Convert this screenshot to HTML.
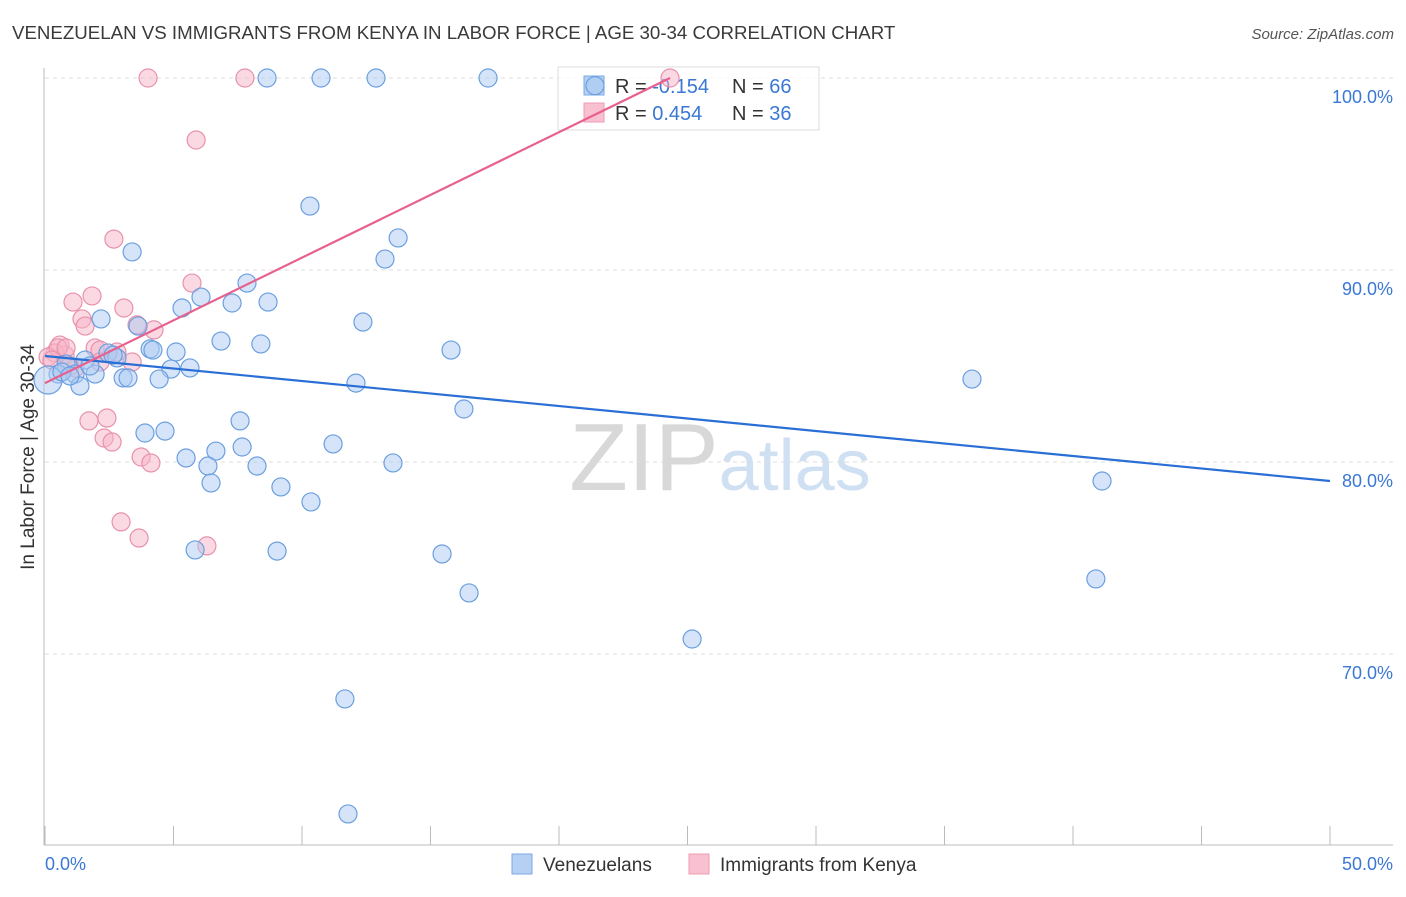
<!DOCTYPE html>
<html><head><meta charset="utf-8"><style>
body{margin:0;background:#fff;font-family:"Liberation Sans",sans-serif;}
svg text{font-family:"Liberation Sans",sans-serif;}
</style></head><body>
<svg id="chart" width="1406" height="892" xmlns="http://www.w3.org/2000/svg">
<text x="12" y="39" font-size="18.7" fill="#3a3a3a">VENEZUELAN VS IMMIGRANTS FROM KENYA IN LABOR FORCE | AGE 30-34 CORRELATION CHART</text>
<text x="1394" y="39" font-size="15" fill="#555" text-anchor="end" font-style="italic">Source: ZipAtlas.com</text>
<text x="720" y="490" font-size="96" fill="#ddd" text-anchor="middle" font-family="Liberation Serif"><tspan fill="#d8d8d8">ZIP</tspan><tspan fill="#cfe0f3" font-family="Liberation Sans" font-size="72">atlas</tspan></text>
<text transform="translate(34,457) rotate(-90)" font-size="19" fill="#333" text-anchor="middle">In Labor Force | Age 30-34</text>
<g id="grid"></g>
<g>
<rect x="558" y="67" width="261" height="63" fill="#fff" fill-opacity="0.75" stroke="#ddd"/>
<rect x="584" y="76" width="20" height="19" fill="#b5d0f3" stroke="#7aa8e6"/>
<rect x="584" y="103" width="20" height="19" fill="#f8c0d0" stroke="#ee9cb4"/>
<text x="615" y="93" font-size="20" fill="#333">R = <tspan fill="#3a78d4"> -0.154</tspan></text>
<text x="732" y="93" font-size="20" fill="#333">N = <tspan fill="#3a78d4">66</tspan></text>
<text x="615" y="120" font-size="20" fill="#333">R = <tspan fill="#3a78d4">  0.454</tspan></text>
<text x="732" y="120" font-size="20" fill="#333">N = <tspan fill="#3a78d4">36</tspan></text>
</g>
<g id="pts"></g><g id="lines"></g>
<g>
<rect x="512" y="854" width="20" height="20" fill="#b5d0f3" stroke="#7aa8e6"/>
<text x="543" y="871" font-size="19" fill="#333">Venezuelans</text>
<rect x="689" y="854" width="20" height="20" fill="#f8c0d0" stroke="#ee9cb4"/>
<text x="720" y="871" font-size="19" fill="#333">Immigrants from Kenya</text>
</g>
</svg>
<script>
const blueX=[8.64,10.74,12.88,17.24,21.4,10.31,13.74,3.39,13.23,7.86,6.07,5.33,7.28,8.68,2.18,12.37,3.62,6.85,8.40,4.09,4.20,5.10,15.80,2.45,2.80,1.56,0.82,4.90,5.64,0.51,1.17,1.95,3.04,3.23,4.44,12.10,36.07,1.36,0.12,16.30,7.59,3.89,4.67,11.21,7.67,5.49,6.65,6.34,8.25,13.54,6.46,9.18,10.35,41.13,5.84,9.03,15.45,16.50,40.89,25.18,11.67,11.79,0.66,0.97,1.75,2.65];
const blueY=[100,100,100,100,99.6,93.33,91.67,90.94,90.57,89.32,88.59,88.02,88.28,88.33,87.45,87.29,87.08,86.30,86.15,85.89,85.83,85.73,85.83,85.68,85.42,85.31,85.10,84.84,84.90,84.58,84.58,84.58,84.38,84.38,84.32,84.11,84.32,83.96,84.27,82.76,82.14,81.51,81.61,80.94,80.78,80.21,80.57,79.79,79.79,79.95,78.91,78.70,77.92,79.01,75.42,75.36,75.21,73.18,73.91,70.78,67.66,61.67,84.69,84.48,85.0,85.57];
const pinkX=[4.01,7.78,24.32,5.88,2.68,5.72,1.83,1.09,3.07,1.44,1.56,3.58,4.24,0.58,1.95,2.80,0.39,0.78,0.12,3.39,2.14,1.17,1.71,2.41,2.30,2.61,3.74,4.12,2.96,3.66,6.30,0.51,0.27,2.14,0.97,0.82];
const pinkY=[100,100,100,96.77,91.61,89.32,88.65,88.33,88.02,87.45,87.08,87.14,86.88,86.09,85.94,85.73,85.68,85.57,85.47,85.21,85.83,84.90,82.14,82.29,81.25,81.04,80.26,79.95,76.88,76.04,75.63,85.94,85.31,85.21,85.0,85.94];
const blueTrend=[[0,85.52],[50,79.01]];
const pinkTrend=[[0,84.11],[24.32,100]];
const yTicks=[70,80,90,100];
const yTickLabels=["70.0%","80.0%","90.0%","100.0%"];
const xTicks=[0,5,10,15,20,25,30,35,40,45,50];
const NS="http://www.w3.org/2000/svg";
const sx=v=>45+v*25.7, sy=v=>462-(v-80)*19.2;
function mk(t,a,p){const e=document.createElementNS(NS,t);for(const k in a)e.setAttribute(k,a[k]);p.appendChild(e);return e;}
const g=document.getElementById('grid');
yTicks.forEach((v,i)=>{
 const l=mk('line',{x1:45,x2:1393,y1:sy(v),y2:sy(v),stroke:'#ddd','stroke-dasharray':'4,4'},g);
 
 
 const t=mk('text',{x:1393,y:sy(v)+25,'font-size':18,fill:'#3a78d4','text-anchor':'end'},g);
 t.textContent=yTickLabels[i];
 
 
});
const ax=mk('line',{x1:44,x2:44,y1:68,y2:845,stroke:'#bbb'},g);


const bx=mk('line',{x1:44,x2:1393,y1:845,y2:845,stroke:'#bbb'},g);


xTicks.forEach(v=>{
 const l=mk('line',{x1:sx(v),x2:sx(v),y1:826,y2:845,stroke:'#bbb'},g);
 
 
});
const t0=mk('text',{x:45,y:870,'font-size':18,fill:'#3a78d4'},g);t0.textContent='0.0%';


const t1=mk('text',{x:1393,y:870,'font-size':18,fill:'#3a78d4','text-anchor':'end'},g);t1.textContent='50.0%';


const P=document.getElementById('pts');
function pts(X,Y,fill,stroke,name,big){X.forEach((x,i)=>{
 const c=mk('circle',{cx:sx(x),cy:sy(Y[i]),r:(big&&x<0.2?14:9),fill:fill,'fill-opacity':0.5,stroke:stroke,'stroke-width':1.2},P);
 
 
});}
pts(pinkX,pinkY,'#f7b3c8','#e891ab','kenya-point',false);
pts(blueX,blueY,'#abc9f1','#6b9fe0','venezuelan-point',true);
const L=document.getElementById('lines');
const b=mk('line',{x1:sx(blueTrend[0][0]),y1:sy(blueTrend[0][1]),x2:sx(blueTrend[1][0]),y2:sy(blueTrend[1][1]),stroke:'#2a6fd6','stroke-width':2.2},L);


const p=mk('line',{x1:sx(pinkTrend[0][0]),y1:sy(pinkTrend[0][1]),x2:sx(pinkTrend[1][0]),y2:sy(pinkTrend[1][1]),stroke:'#e8608e','stroke-width':2.2},L);


</script>
</body></html>
